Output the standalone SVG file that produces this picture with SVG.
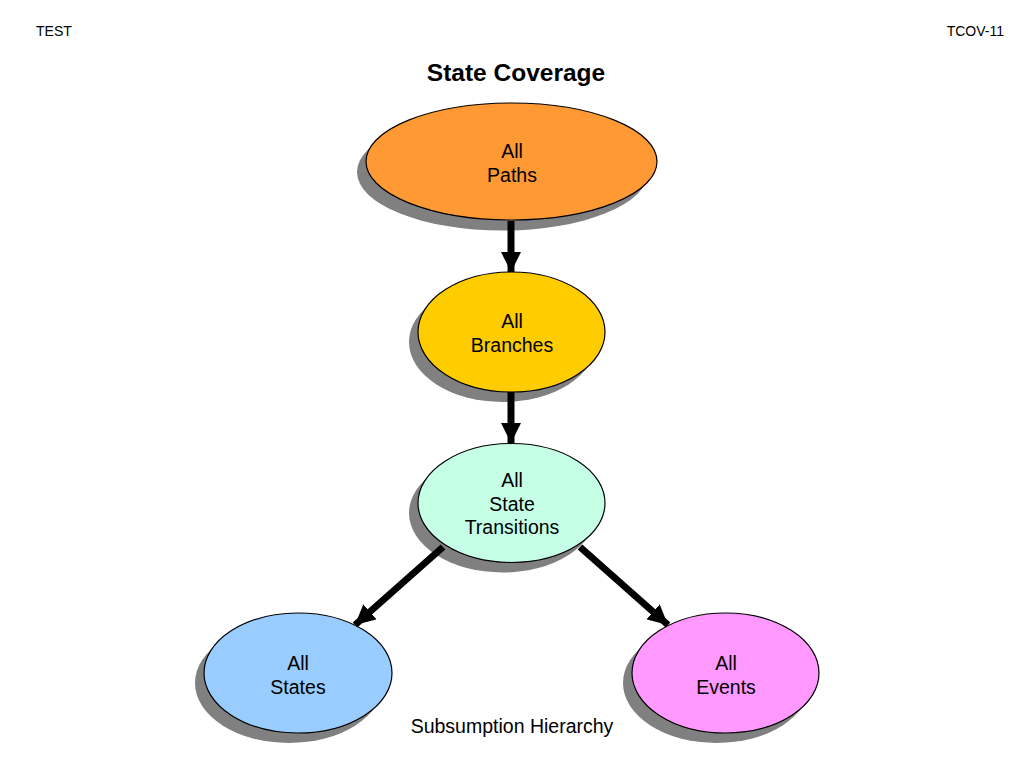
<svg xmlns="http://www.w3.org/2000/svg" width="1024" height="768" viewBox="0 0 1024 768">
<defs>
<style>
.t{font-family:"Liberation Sans",Arial,sans-serif;fill:#000}
.lbl{font-size:19.5px;text-anchor:middle}
.sh{fill:#808080}
.nd{stroke:#000;stroke-width:1.2}
.cn{stroke:#000;stroke-width:7;fill:none}
</style>
<marker id="ah" markerUnits="userSpaceOnUse" markerWidth="20" markerHeight="20" refX="20" refY="10" orient="auto">
<path d="M0,0 L20,10 L0,20 z" fill="#000"/>
</marker>
</defs>
<rect width="1024" height="768" fill="#fff"/>
<text class="t" x="36" y="36" font-size="14">TEST</text>
<text class="t" x="1004" y="36" font-size="14" text-anchor="end">TCOV-11</text>
<text class="t" x="516" y="81" font-size="24.5" font-weight="bold" text-anchor="middle">State Coverage</text>

<g id="node-paths">
<ellipse class="sh" cx="502.5" cy="172" rx="145.5" ry="58.5"/>
<ellipse class="nd" cx="511.5" cy="161.5" rx="145.5" ry="58.5" fill="#FF9933"/>
<text class="t lbl" x="512" y="158">All</text>
<text class="t lbl" x="512" y="182">Paths</text>
</g>

<g id="node-branches">
<ellipse class="sh" cx="502.5" cy="342" rx="93.5" ry="60"/>
<ellipse class="nd" cx="511.5" cy="332" rx="93.5" ry="60" fill="#FFCC00"/>
<text class="t lbl" x="512" y="328">All</text>
<text class="t lbl" x="512" y="352">Branches</text>
</g>

<g id="node-transitions">
<ellipse class="sh" cx="502.5" cy="513" rx="93.5" ry="59.5"/>
<ellipse class="nd" cx="511.5" cy="503" rx="93.5" ry="59.5" fill="#C4FFE6"/>
<text class="t lbl" x="512" y="487">All</text>
<text class="t lbl" x="512" y="511">State</text>
<text class="t lbl" x="512" y="534">Transitions</text>
</g>

<g id="node-states">
<ellipse class="sh" cx="289" cy="683" rx="94" ry="60"/>
<ellipse class="nd" cx="298" cy="673" rx="94" ry="60" fill="#99CCFF"/>
<text class="t lbl" x="298" y="670">All</text>
<text class="t lbl" x="298" y="694">States</text>
</g>

<g id="node-events">
<ellipse class="sh" cx="716.5" cy="683" rx="93.5" ry="60"/>
<ellipse class="nd" cx="725.5" cy="673" rx="93.5" ry="60" fill="#FF99FF"/>
<text class="t lbl" x="726" y="670">All</text>
<text class="t lbl" x="726" y="694">Events</text>
</g>

<g id="connectors">
<line class="cn" x1="511" y1="221" x2="511" y2="272" marker-end="url(#ah)"/>
<line class="cn" x1="511" y1="392" x2="511" y2="443" marker-end="url(#ah)"/>
<line class="cn" x1="443" y1="547" x2="355" y2="625" marker-end="url(#ah)"/>
<line class="cn" x1="580" y1="547" x2="668" y2="625" marker-end="url(#ah)"/>
</g>

<text class="t" x="512" y="733" font-size="19.5" text-anchor="middle">Subsumption Hierarchy</text>
</svg>
